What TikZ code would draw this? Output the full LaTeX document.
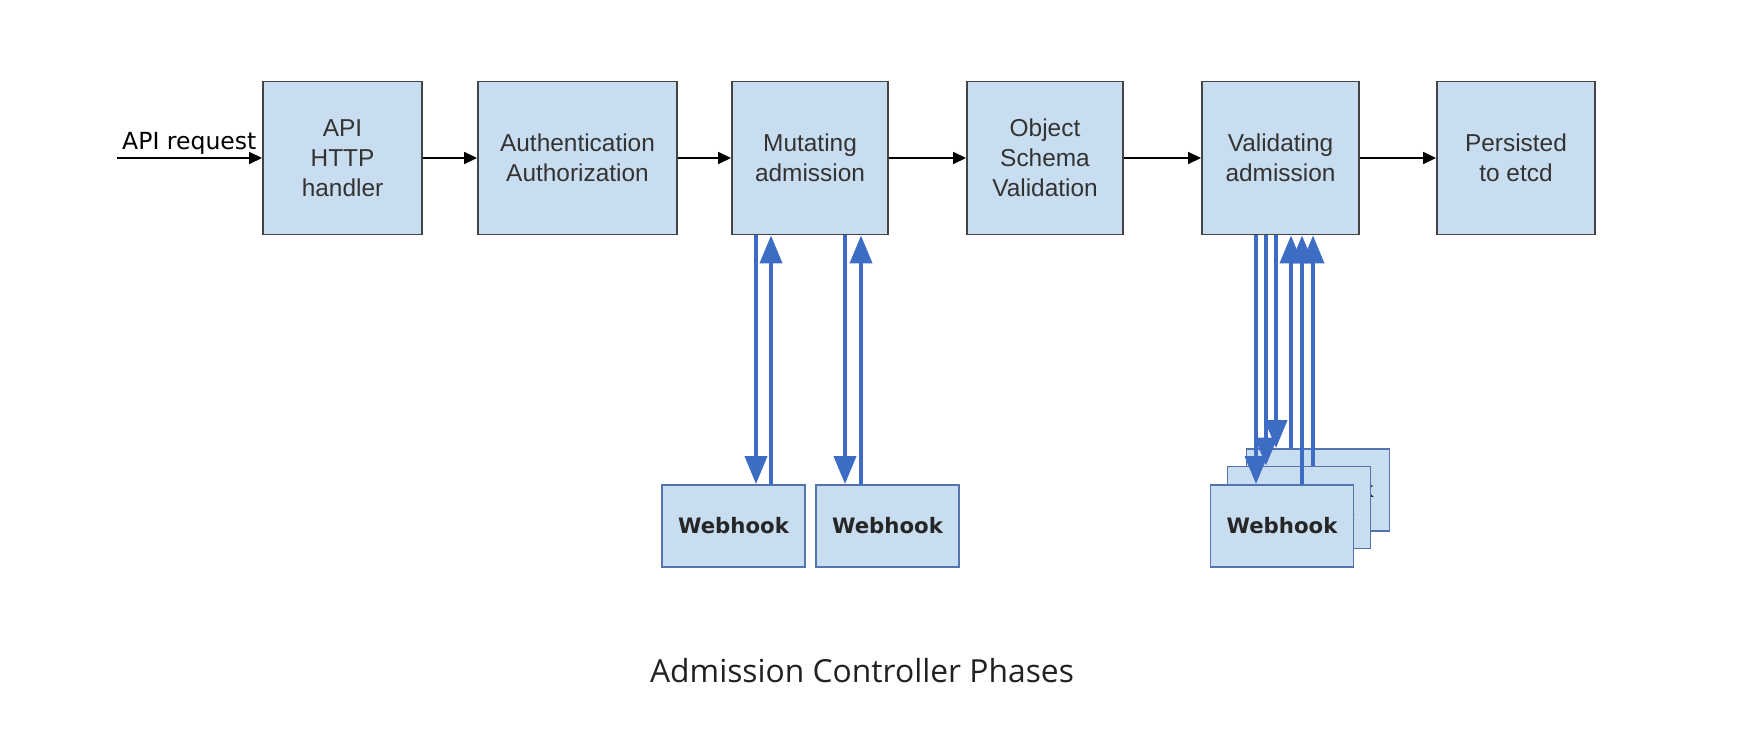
\documentclass[tikz,border=0pt]{standalone}
\usepackage{fontspec}
\setmainfont{Liberation Sans}
\newfontfamily\hookfont{DejaVu Sans}
\newfontfamily\titlefont{Open Sans}
\usetikzlibrary{arrows.meta}
\usetikzlibrary{calc}
\definecolor{boxFill}{RGB}{201,221,240}
\definecolor{boxLine}{RGB}{68,68,68}
\definecolor{hookLine}{RGB}{84,116,176}
\definecolor{callBlue}{RGB}{60,108,196}
\definecolor{textGray}{RGB}{51,51,51}

\begin{document}
\begin{tikzpicture}[x=0.02cm,y=-0.02cm,
  phase/.style={draw=boxLine, line width=1.1pt, fill=boxFill, text=textGray, align=center,
    minimum height=3.06cm, inner sep=0pt, font=\fontsize{13.9}{17}\selectfont},
  hook/.style={draw=hookLine, line width=1.1pt, fill=boxFill, text=black!85,
    minimum width=2.86cm, minimum height=1.64cm, inner sep=0pt,
    font=\hookfont\bfseries\fontsize{12.1}{14}\selectfont},
  flow/.style={-{Triangle[length=0.26cm,width=0.24cm]}, line width=0.9pt, black},
  call/.style={-{Triangle[length=0.56cm,width=0.44cm]}, line width=2.2pt, callBlue},
]
\useasboundingbox (0,0) rectangle (1752,750);

% phases
\node [phase, minimum width=3.18cm] (api) at (342.5,158) {API\\HTTP\\handler};
\node [phase, minimum width=3.98cm] (auth) at (577.5,158) {Authentication\\Authorization};
\node [phase, minimum width=3.12cm] (mut) at (810,158) {Mutating\\admission};
\node [phase, minimum width=3.12cm] (obj) at (1045,158) {Object\\Schema\\Validation};
\node [phase, minimum width=3.14cm] (val) at (1280.5,158) {Validating\\admission};
\node [phase, minimum width=3.16cm] (etcd) at (1516,158) {Persisted\\to etcd};

\coordinate (req) at (117,158);
\node [anchor=base west, text=black, font=\hookfont\fontsize{13.4}{16}\selectfont] (reqlabel) at (116,150) {API request};

\draw [flow] (req) -- (api);
\draw [flow] (api) -- (auth);
\draw [flow] (auth) -- (mut);
\draw [flow] (mut) -- (obj);
\draw [flow] (obj) -- (val);
\draw [flow] (val) -- (etcd);

% mutating webhooks
\node [hook] (wh1) at (733.5,526) {Webhook};
\node [hook] (wh2) at (887.5,526) {Webhook};

\coordinate (m1) at (756,0);
\coordinate (m2) at (771,0);
\coordinate (m3) at (845,0);
\coordinate (m4) at (861,0);
\draw [call] (mut.south -| m1) -- (wh1.north -| m1);
\draw [call] (wh1.north -| m2) -- (mut.south -| m2);
\draw [call] (mut.south -| m3) -- (wh2.north -| m3);
\draw [call] (wh2.north -| m4) -- (mut.south -| m4);

% validating webhooks
\node [hook] (vb3) at (1318,490) {Webhook};
\node [hook] (vb2) at (1299,507.5) {Webhook};
\node [hook] (vb1) at (1282,526) {Webhook};

\coordinate (v1) at (1256,0);
\coordinate (v2) at (1266,0);
\coordinate (v3) at (1276,0);
\coordinate (v4) at (1291,0);
\coordinate (v5) at (1302,0);
\coordinate (v6) at (1313,0);
\draw [call] (val.south -| v1) -- (vb1.north -| v1);
\draw [call] (val.south -| v2) -- (vb2.north -| v2);
\draw [call] (val.south -| v3) -- (vb3.north -| v3);
\draw [call] (vb3.north -| v4) -- (val.south -| v4);
\draw [call] (vb1.north -| v5) -- (val.south -| v5);
\draw [call] (vb2.north -| v6) -- (val.south -| v6);

\node [anchor=base, text=black!87, font=\titlefont\fontsize{18.1}{22}\selectfont] (title) at (862,682) {Admission Controller Phases};
\end{tikzpicture}
\end{document}
